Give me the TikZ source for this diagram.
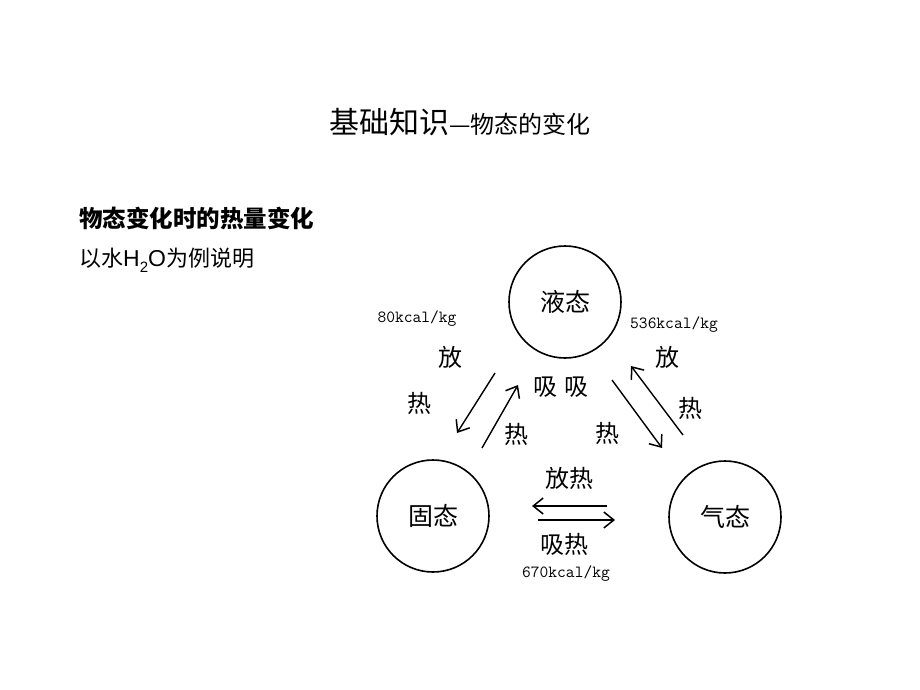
\documentclass[tikz,border=0pt]{standalone}
\usepackage{fontspec}
\newfontfamily\cjk{Noto Sans CJK SC}
\newfontfamily\arialf{Liberation Sans}
\usetikzlibrary{arrows.meta}
\tikzset{
  state/.style={circle,draw,line width=1.6pt,minimum size=112pt,inner sep=0pt,font=\cjk\fontsize{25}{25}\selectfont},
  lbl/.style={inner sep=0pt,font=\cjk\fontsize{24}{24}\selectfont},
  kcal/.style={inner sep=0pt,font=\ttfamily\fontsize{17}{17}\selectfont},
  arr/.style={line width=1.4pt,-{Straight Barb[length=10pt,width=16pt,line width=1.5pt]}}
}
\begin{document}
\begin{tikzpicture}[x=1pt,y=-1pt]
\useasboundingbox[fill=white] (0,0) rectangle (920,690);
% title
\node[inner sep=0pt] (title) at (460,122) {\cjk\fontsize{30}{30}\selectfont 基础知识\fontsize{24}{24}\selectfont —物态的变化};
\node[inner sep=0pt,anchor=west] (head) at (79,218) {\cjk\bfseries\fontsize{23.5}{23.5}\selectfont 物态变化时的热量变化};
\node[inner sep=0pt,anchor=west] (sub) at (79,260) {\cjk\fontsize{22}{22}\selectfont 以水{\arialf\fontsize{23}{23}\selectfont H\raisebox{-0.28em}{\fontsize{15}{15}\selectfont 2}O}为例说明};
% states
\node[state] (liq) at (565,302) {液态};
\node[state] (sol) at (433,516) {固态};
\node[state] (gas) at (725,517) {气态};
% arrow endpoints
\coordinate (a1s) at (495,373); \coordinate (a1e) at (457,433);
\coordinate (a2s) at (482,448); \coordinate (a2e) at (518,385);
\coordinate (a3s) at (612,380); \coordinate (a3e) at (662,448);
\coordinate (a4s) at (683,435); \coordinate (a4e) at (631,366);
\coordinate (a5s) at (607,506); \coordinate (a5e) at (532,506);
\coordinate (a6s) at (538,520); \coordinate (a6e) at (615,520);
\draw[arr] (a1s) -- (a1e);
\draw[arr] (a2s) -- (a2e);
\draw[arr] (a3s) -- (a3e);
\draw[arr] (a4s) -- (a4e);
\draw[arr] (a5s) -- (a5e);
\draw[arr] (a6s) -- (a6e);
% labels
\node[kcal] (k1) at (417,319) {80kcal/kg};
\node[kcal] (k2) at (674,325) {536kcal/kg};
\node[kcal] (k3) at (566,574) {670kcal/kg};
\node[lbl] (f1) at (450,357) {放};
\node[lbl] (r1) at (419,403) {热};
\node[lbl] (xx) at (561,387) {吸\hspace{7pt}吸};
\node[lbl] (r2) at (516,434) {热};
\node[lbl] (r3) at (607,433) {热};
\node[lbl] (f2) at (667,357) {放};
\node[lbl] (r4) at (690,408) {热};
\node[lbl] (fr) at (569,478) {放热};
\node[lbl] (xr) at (564,544) {吸热};
\end{tikzpicture}
\end{document}
